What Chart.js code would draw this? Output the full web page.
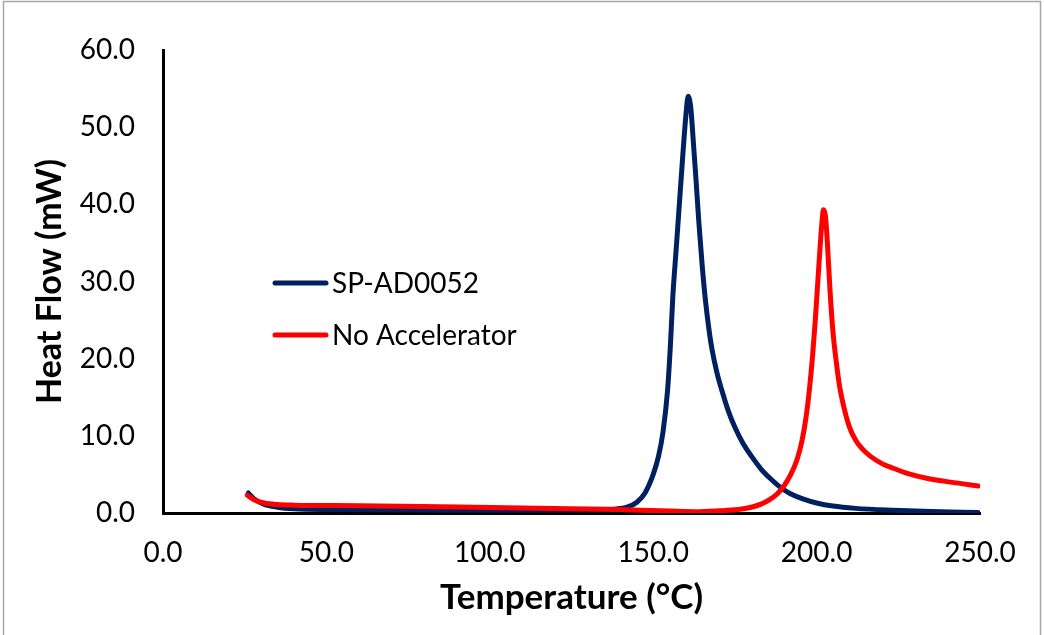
<!DOCTYPE html>
<html>
<head>
<meta charset="utf-8">
<script src="https://cdn.jsdelivr.net/npm/chart.js@4/dist/chart.umd.min.js"></script>
<style>
  html, body { margin: 0; padding: 0; background: #ffffff; }
  #wrap { width: 1044px; height: 635px; position: relative; }
</style>
</head>
<body>
<div id="wrap"><canvas id="c" width="1044" height="635"></canvas></div>
<script>
// ---- Data ----
const seriesNames = ["SP-AD0052", "No Accelerator"];

const blueTemp = [26.1, 28, 31, 35, 40, 50, 70, 100, 130, 138, 142, 145, 147.5, 150, 151.6, 153, 154.4, 155.3, 156, 157, 158, 159, 160, 160.7, 161.5, 162.3, 163.1, 164, 165, 166, 167, 168, 169.5, 171, 173, 175, 177.5, 180, 183, 186, 189.3, 192, 196, 200, 205, 212, 223.5, 235, 249.4];
const blueFlow = [2.6, 1.8, 1.1, 0.75, 0.55, 0.45, 0.42, 0.38, 0.4, 0.5, 0.75, 1.4, 2.6, 5.0, 7.3, 10.5, 15.9, 22, 28, 34, 40, 46, 51.5, 54.0, 52.5, 48, 43.2, 37.5, 32, 27.5, 24, 21.2, 18.2, 15.9, 13.2, 11.1, 9.0, 7.4, 5.7, 4.4, 3.2, 2.5, 1.8, 1.3, 0.9, 0.6, 0.35, 0.18, 0.05];

const redTemp = [25.8, 28, 31, 35, 40, 60, 85, 110, 136, 146, 155, 163, 170, 176, 180, 183, 185.5, 188, 190, 192, 194, 195.5, 196.8, 197.8, 198.8, 199.6, 200.3, 201, 201.6, 202.1, 202.7, 203.3, 204.1, 205, 205.9, 207, 208.3, 210, 212, 214, 216.3, 220, 223.5, 228, 233.7, 241, 249.5];
const redFlow = [2.3, 1.7, 1.3, 1.1, 1.02, 0.95, 0.82, 0.65, 0.48, 0.35, 0.25, 0.17, 0.28, 0.45, 0.75, 1.15, 1.7, 2.5, 3.5, 4.9, 6.9, 9.3, 12.5, 16, 20.5, 25, 29.5, 34, 37.5, 39.3, 38.5, 35, 28.9, 23.5, 20, 16.5, 13.8, 11.2, 9.4, 8.3, 7.4, 6.4, 5.8, 5.1, 4.5, 4.0, 3.5];

const xTicks = [0, 50, 100, 150, 200, 250];
const yTicks = [0, 10, 20, 30, 40, 50, 60];

const xTitle = "Temperature (°C)";
const yTitle = "Heat Flow (mW)";

// ---- Styles ----
const FONT = "Lato, 'Open Sans', 'Noto Sans', sans-serif";
const blueColor = "#002060";
const redColor = "#FF0000";

const toPoints = (xs, ys) => xs.map((x, i) => ({ x: x, y: ys[i] }));

// Custom in-plot legend + outer border
const decorPlugin = {
  id: 'decor',
  beforeDraw(chart) {
    const ctx = chart.ctx;
    ctx.save();
    ctx.fillStyle = '#ffffff';
    ctx.fillRect(0, 0, chart.width, chart.height);
    ctx.restore();
  },
  afterDraw(chart) {
    const ctx = chart.ctx;
    ctx.save();
    // outer border
    ctx.strokeStyle = '#a6a6a6';
    ctx.lineWidth = 1.5;
    ctx.strokeRect(3.5, 1.5, 1037, 645);
    // legend
    const rows = [283, 335];
    chart.data.datasets.forEach((ds, i) => {
      const y = rows[i];
      ctx.strokeStyle = ds.borderColor;
      ctx.lineWidth = 5;
      ctx.lineCap = 'round';
      ctx.beginPath();
      ctx.moveTo(275, y);
      ctx.lineTo(326, y);
      ctx.stroke();
      ctx.fillStyle = '#000000';
      ctx.font = "28px " + FONT;
      ctx.textBaseline = 'middle';
      ctx.textAlign = 'left';
      ctx.fillText(ds.label, 332, y + 1);
    });
    ctx.restore();
  }
};

new Chart(document.getElementById('c'), {
  type: 'line',
  data: {
    datasets: [
      {
        label: seriesNames[0],
        data: toPoints(blueTemp, blueFlow),
        borderColor: blueColor,
        backgroundColor: blueColor,
        borderWidth: 5,
        pointRadius: 0,
        cubicInterpolationMode: 'monotone',
        borderCapStyle: 'round',
        borderJoinStyle: 'round',
        fill: false,
        order: 2
      },
      {
        label: seriesNames[1],
        data: toPoints(redTemp, redFlow),
        borderColor: redColor,
        backgroundColor: redColor,
        borderWidth: 5,
        pointRadius: 0,
        cubicInterpolationMode: 'monotone',
        borderCapStyle: 'round',
        borderJoinStyle: 'round',
        fill: false,
        order: 1
      }
    ]
  },
  options: {
    responsive: false,
    animation: false,
    devicePixelRatio: 1,
    layout: { padding: { left: 0, top: 50, right: 64, bottom: 0 } },
    plugins: {
      legend: { display: false },
      tooltip: { enabled: false }
    },
    scales: {
      x: {
        type: 'linear',
        min: 0,
        max: 250,
        afterBuildTicks: (s) => { s.ticks = xTicks.map(v => ({ value: v })); },
        afterFit: (s) => { s.height = 122; },
        grid: { display: false, drawTicks: false },
        border: { display: true, color: '#000000', width: 3 },
        ticks: {
          padding: 23,
          color: '#000000',
          font: { family: FONT, size: 28 },
          maxRotation: 0,
          callback: (v) => Number(v).toFixed(1)
        },
        title: {
          display: true,
          text: xTitle,
          color: '#000000',
          font: { family: FONT, size: 35, weight: 'bold' },
          padding: { top: 0, bottom: 16 }
        }
      },
      y: {
        type: 'linear',
        min: 0,
        max: 60,
        afterBuildTicks: (s) => { s.ticks = yTicks.map(v => ({ value: v })); },
        afterFit: (s) => { s.width = 163; },
        grid: { display: false, drawTicks: false },
        border: { display: true, color: '#000000', width: 3 },
        ticks: {
          padding: 28,
          color: '#000000',
          font: { family: FONT, size: 28 },
          callback: (v) => Number(v).toFixed(1)
        },
        title: {
          display: true,
          text: yTitle,
          color: '#000000',
          font: { family: FONT, size: 34, weight: 'bold' },
          padding: { top: 30, bottom: 0 }
        }
      }
    }
  },
  plugins: [decorPlugin]
});
</script>
</body>
</html>
